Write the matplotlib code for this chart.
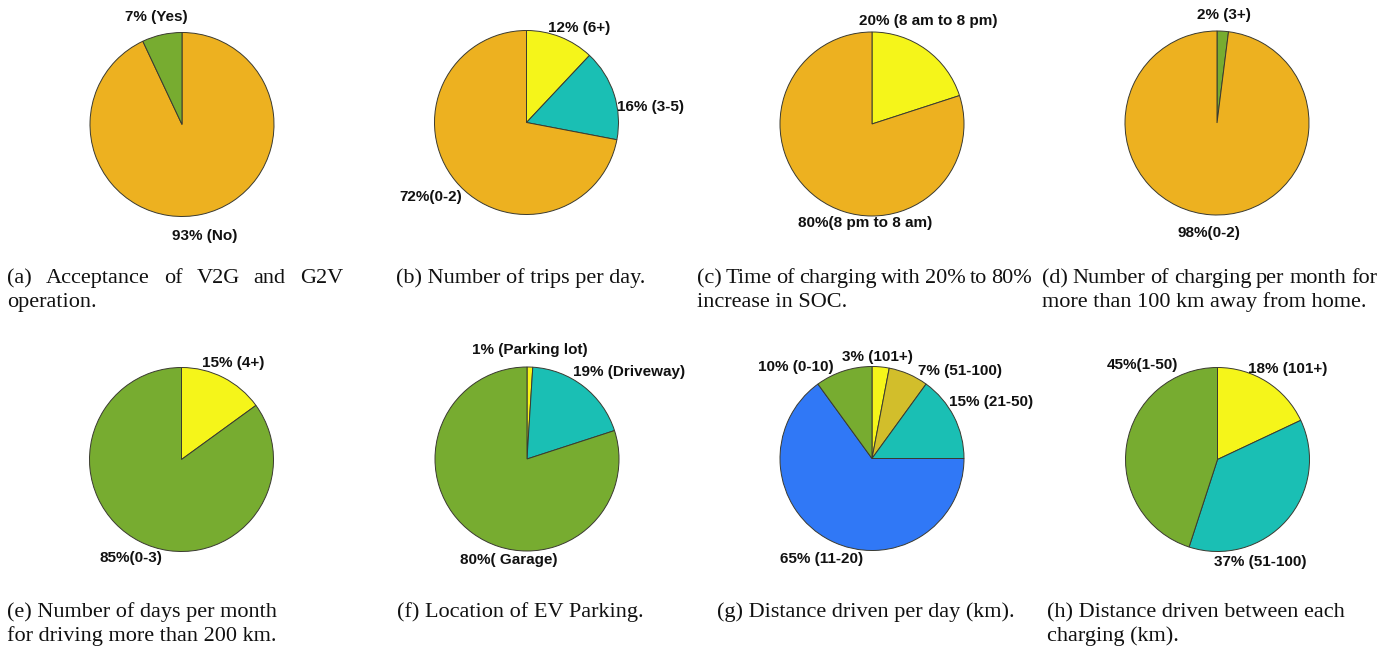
import matplotlib
matplotlib.use("Agg")
import matplotlib.pyplot as plt

# ---- survey results (percent) ----
a_values = [93, 7]
a_labels = ["93% (No)", "7% (Yes)"]

b_values = [12, 16, 72]
b_labels = ["12% (6+)", "16% (3-5)", "72%(0-2)"]

c_values = [20, 80]
c_labels = ["20% (8 am to 8 pm)", "80%(8 pm to 8 am)"]

d_values = [2, 98]
d_labels = ["2% (3+)", "98%(0-2)"]

e_values = [15, 85]
e_labels = ["15% (4+)", "85%(0-3)"]

f_values = [1, 19, 80]
f_labels = ["1% (Parking lot)", "19% (Driveway)", "80%( Garage)"]

g_values = [3, 7, 15, 65, 10]
g_labels = ["3% (101+)", "7% (51-100)", "15% (21-50)", "65% (11-20)", "10% (0-10)"]

h_values = [18, 37, 45]
h_labels = ["18% (101+)", "37% (51-100)", "45%(1-50)"]

captions = {
    "a": ["(a) Acceptance of V2G and G2V", "operation."],
    "b": ["(b) Number of trips per day."],
    "c": ["(c) Time of charging with 20% to 80%", "increase in SOC."],
    "d": ["(d) Number of charging per month for", "more than 100 km away from home."],
    "e": ["(e) Number of days per month", "for driving more than 200 km."],
    "f": ["(f) Location of EV Parking."],
    "g": ["(g) Distance driven per day (km)."],
    "h": ["(h) Distance driven between each", "charging (km)."],
}

# ---- colours ----
ORANGE = "#EDB120"
GREEN = "#77AC30"
YELLOW = "#F5F51A"
TEAL = "#1ABFB4"
BLUE = "#3078F6"
OLIVE = "#D2BE2B"

W, H = 1395, 648
R = 92.0  # pie radius in pixels

fig = plt.figure(figsize=(W / 100, H / 100), dpi=100)
fig.patch.set_facecolor("white")

# (values, labels, colours, centre px, label positions in radius units, justified first line width)
panels = [
    ("a", a_values, a_labels, [ORANGE, GREEN], (182, 124.5),
     [(0.25, -1.21), (-0.28, 1.17)], 336),
    ("b", b_values, b_labels, [YELLOW, TEAL, ORANGE], (526.5, 122.5),
     [(0.57, 1.03), (1.35, 0.17), (-1.04, -0.81)], None),
    ("c", c_values, c_labels, [YELLOW, ORANGE], (872, 124),
     [(0.61, 1.12), (-0.08, -1.08)], 335),
    ("d", d_values, d_labels, [GREEN, ORANGE], (1217, 123),
     [(0.08, 1.17), (-0.09, -1.20)], 335),
    ("e", e_values, e_labels, [YELLOW, GREEN], (181.5, 459.5),
     [(0.56, 1.05), (-0.55, -1.07)], None),
    ("f", f_values, f_labels, [YELLOW, TEAL, GREEN], (527, 459),
     [(0.03, 1.19), (1.11, 0.95), (-0.20, -1.10)], None),
    ("g", g_values, g_labels, [YELLOW, OLIVE, TEAL, BLUE, GREEN], (872, 458.5),
     [(0.06, 1.10), (0.96, 0.95), (1.29, 0.61), (-0.55, -1.09), (-0.83, 1.00)], None),
    ("h", h_values, h_labels, [YELLOW, TEAL, GREEN], (1217.5, 459.5),
     [(0.76, 0.98), (0.46, -1.11), (-0.82, 1.03)], None),
]

caption_x = {"a": 7, "b": 396, "c": 697, "d": 1042,
             "e": 7, "f": 397, "g": 717, "h": 1047}
caption_y = {1: (283, 307), 2: (617, 641)}

SPAN = 1.6
for key, vals, labs, cols, (cx, cy), lpos, _ in panels:
    half = SPAN * R
    ax = fig.add_axes([(cx - half) / W, 1 - (cy + half) / H, 2 * half / W, 2 * half / H])
    ax.pie(vals, colors=cols, startangle=90, counterclock=False, radius=1.0,
           wedgeprops=dict(edgecolor="#3a3a30", linewidth=0.7))
    ax.set_xlim(-SPAN, SPAN)
    ax.set_ylim(-SPAN, SPAN)
    ax.set_aspect("equal")
    ax.axis("off")
    for text, (lx, ly) in zip(labs, lpos):
        ax.text(lx, ly, text, ha="center", va="center", fontsize=11,
                fontweight="bold", family="Liberation Sans", color="#111111",
                clip_on=False)

# ---- captions ----
renderer = fig.canvas.get_renderer()
CAP_FS = 16
CAP_KW = dict(fontsize=CAP_FS, family="Liberation Serif", ha="left",
              va="baseline", color="#111111")


def word_width(word):
    t = fig.text(0, 0, word, fontsize=CAP_FS, family="Liberation Serif")
    w = t.get_window_extent(renderer).width
    t.remove()
    return w


for key, vals, labs, cols, (cx, cy), lpos, just in panels:
    row = 1 if key in "abcd" else 2
    x0 = caption_x[key]
    for i, line in enumerate(captions[key]):
        y = caption_y[row][i]
        if i == 0 and just is not None:
            # justified line: spread words across the column width
            words = line.split(" ")
            widths = [word_width(w) for w in words]
            gap = (just - sum(widths)) / (len(words) - 1)
            x = x0
            for w, ww in zip(words, widths):
                fig.text(x / W, 1 - y / H, w, **CAP_KW)
                x += ww + gap
        else:
            fig.text(x0 / W, 1 - y / H, line, **CAP_KW)

fig.savefig("out.png", dpi=100, facecolor="white")
